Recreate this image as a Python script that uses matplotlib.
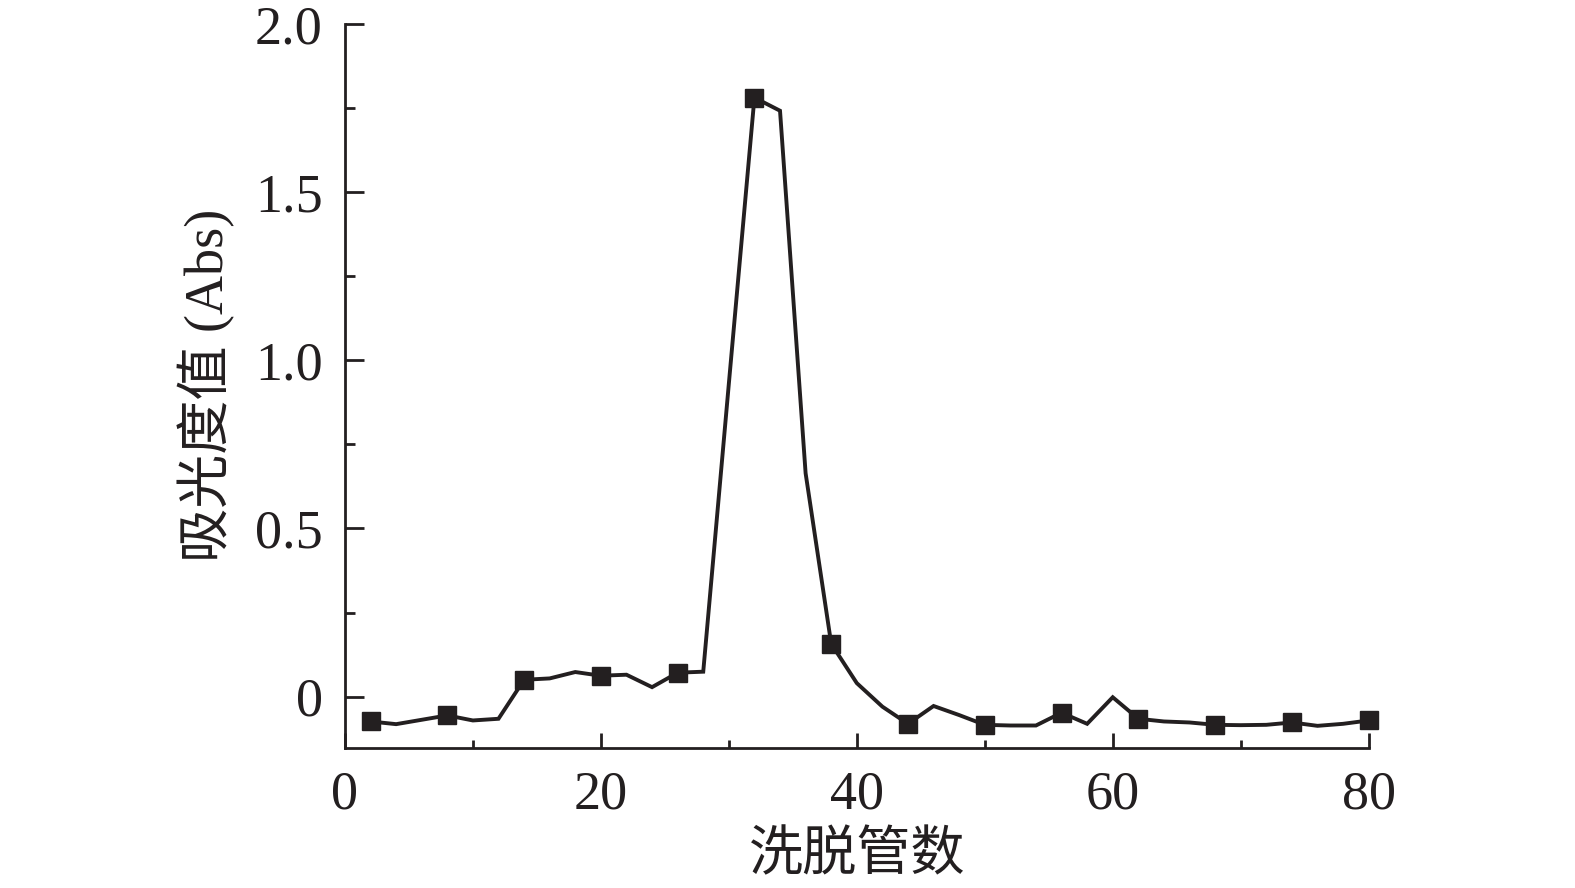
import matplotlib
matplotlib.use("Agg")
import matplotlib.pyplot as plt
from matplotlib.ticker import MultipleLocator

plt.rcParams["font.family"] = ["Liberation Serif", "Noto Sans CJK SC"]

# tube number vs absorbance (every 2nd tube measured)
tubes = list(range(2, 82, 2))
absorbance = [
    -0.074, -0.082, -0.069, -0.056, -0.071, -0.066, 0.050, 0.054, 0.073, 0.062,
    0.065, 0.028, 0.071, 0.074, 0.93, 1.781, 1.742, 0.664, 0.157, 0.040,
    -0.030, -0.081, -0.028, -0.055, -0.084, -0.086, -0.086, -0.048, -0.081, -0.002,
    -0.066, -0.074, -0.077, -0.084, -0.085, -0.084, -0.077, -0.087, -0.081, -0.071,
]
marker_tubes = [2, 8, 14, 20, 26, 32, 38, 44, 50, 56, 62, 68, 74, 80]

y_ticks = [0, 0.5, 1.0, 1.5, 2.0]
y_ticklabels = ["0", "0.5", "1.0", "1.5", "2.0"]
x_ticks = [0, 20, 40, 60, 80]

ink = "#231f20"

fig = plt.figure(figsize=(15.75, 8.88), dpi=100)
ax = fig.add_axes([0.219, 0.158, 0.650, 0.815])

marks = [absorbance[tubes.index(t)] for t in marker_tubes]
ax.plot(tubes, absorbance, color=ink, lw=2.8, solid_joinstyle="miter")
ax.plot(marker_tubes, marks, ls="none", marker="s", ms=12.5, color=ink,
        clip_on=False)

ax.set_xlim(0, 80)
ax.set_ylim(-0.152, 2.0)
ax.set_xticks(x_ticks)
ax.set_xticklabels([str(t) for t in x_ticks])
ax.xaxis.set_minor_locator(MultipleLocator(10))
ax.set_yticks(y_ticks)
ax.set_yticklabels(y_ticklabels)
ax.yaxis.set_minor_locator(MultipleLocator(0.25))

for side in ("top", "right"):
    ax.spines[side].set_visible(False)
for side in ("left", "bottom"):
    ax.spines[side].set_linewidth(2.0)
    ax.spines[side].set_color(ink)
ax.spines["left"].set_capstyle("projecting")

ax.tick_params(axis="both", which="both", direction="in", color=ink,
               width=2.0, labelsize=39, labelcolor=ink, pad=16)
ax.tick_params(axis="y", which="major", length=13.5)
ax.tick_params(axis="y", which="minor", length=7)
ax.tick_params(axis="x", which="major", length=11)
ax.tick_params(axis="x", which="minor", length=6)

ax.set_xlabel("洗脱管数", fontsize=39, color=ink, labelpad=8)
ax.set_ylabel("吸光度值 (Abs)", fontsize=39, color=ink, labelpad=14)

fig.savefig("out.png", dpi=100)
